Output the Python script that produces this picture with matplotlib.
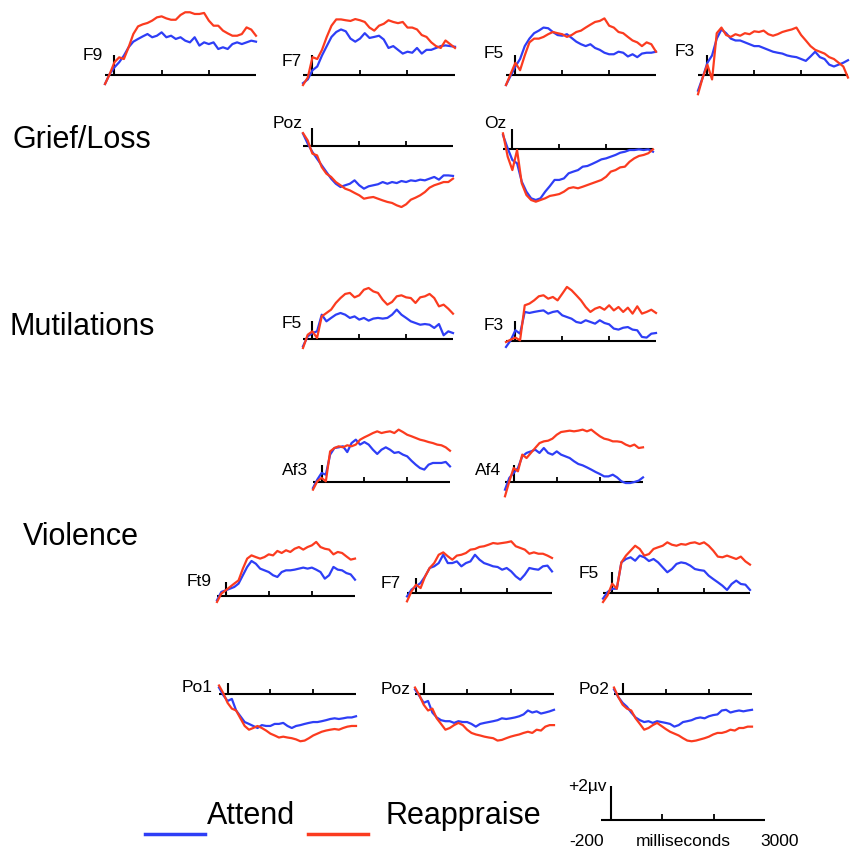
import numpy as np
import matplotlib
matplotlib.use("Agg")
import matplotlib.pyplot as plt
from matplotlib.lines import Line2D

plt.rcParams['font.family'] = ['Liberation Sans', 'DejaVu Sans']

# ---- time axis (ms) shared by every waveform ----
times = np.arange(-200, 3001, 100)
tick_times = [1000, 2000]

# ---- ERP amplitudes (microvolts) ----
# Grief/Loss, row 1
f9_attend = [-0.53, 0.06, 0.45, 0.75, 1.14, 1.63, 1.96, 2.12, 2.27, 2.41, 2.22, 2.31, 2.51, 2.22, 2.31, 2.12, 2.22,
             2.02, 1.92, 2.22, 1.73, 1.92, 1.82, 1.92, 1.53, 1.63, 1.53, 1.82, 1.92, 1.82, 1.92, 2.02, 1.96]
f9_reappraise = [-0.53, 0.06, 0.75, 1.04, 0.94, 1.63, 2.41, 2.86, 2.98, 3.06, 3.2, 3.39, 3.45, 3.33, 3.25, 3.25, 3.53,
                 3.69, 3.69, 3.59, 3.59, 3.65, 3.2, 2.9, 2.9, 2.61, 2.45, 2.31, 2.31, 2.41, 2.8, 2.67, 2.31]
f7_attend = [-0.48, -0.26, 0.28, 0.5, 1.15, 1.7, 2.24, 2.53, 2.68, 2.57, 2.14, 1.96, 2.14, 2.46, 2.18, 2.24, 2.31,
             2.09, 1.59, 1.7, 1.48, 1.26, 1.37, 1.31, 1.59, 1.26, 1.48, 1.48, 1.59, 1.7, 1.74, 1.7, 1.66]
f7_reappraise = [-0.59, -0.15, 1.05, 0.94, 1.48, 2.24, 2.9, 3.27, 3.27, 3.22, 3.18, 3.29, 3.22, 3.12, 2.79, 2.61, 2.9,
                 3.01, 3.22, 3.12, 3.05, 3.12, 2.79, 2.79, 2.68, 2.35, 2.24, 1.92, 1.7, 1.59, 2.03, 1.81, 1.59]
f5_attend = [-0.59, -0.04, 0.5, 0.94, 1.7, 2.14, 2.46, 2.61, 2.79, 2.75, 2.53, 2.35, 2.31, 2.4, 2.18, 1.96, 1.81,
             1.7, 1.81, 1.59, 1.48, 1.31, 1.22, 1.22, 1.37, 1.31, 1.09, 1.22, 1.05, 1.26, 1.31, 1.31, 1.37]
f5_reappraise = [-0.59, 0.07, 0.72, 0.28, 1.15, 1.92, 2.14, 2.14, 2.24, 2.4, 2.53, 2.46, 2.4, 2.24, 2.35, 2.53, 2.61,
                 2.79, 2.96, 3.12, 3.18, 3.33, 2.9, 2.79, 2.53, 2.46, 2.24, 2.03, 1.92, 1.7, 1.92, 1.81, 1.37]
f3_attend = [-0.92, -0.15, 0.72, 1.15, 2.14, 2.68, 2.46, 2.14, 2.03, 2.03, 1.92, 1.81, 1.7, 1.7, 1.59, 1.48, 1.37,
             1.31, 1.26, 1.15, 1.09, 1.05, 0.94, 0.83, 1.09, 1.37, 1.05, 0.94, 0.61, 0.5, 0.61, 0.72, 0.87]
f3_reappraise = [-1.13, -0.15, 0.61, -0.26, 2.46, 2.79, 2.35, 2.24, 2.4, 2.31, 2.46, 2.4, 2.57, 2.53, 2.61, 2.4, 2.31,
                 2.4, 2.53, 2.61, 2.68, 2.79, 2.35, 2.03, 1.7, 1.48, 1.37, 1.26, 1.05, 0.94, 0.72, 0.5, -0.15]
# Grief/Loss, row 2
poz_attend = [0.73, 0.14, -0.35, -0.75, -1.14, -1.53, -1.92, -2.22, -2.41, -2.31, -2.22, -2.02, -2.31, -2.51, -2.37,
              -2.31, -2.25, -2.12, -2.22, -2.12, -2.18, -2.06, -2.12, -2.02, -2.06, -1.98, -2.02, -1.92, -1.82, -1.98,
              -1.73, -1.73, -1.76]
poz_reappraise = [0.76, 0.33, -0.45, -0.55, -1.24, -1.63, -1.82, -2.12, -2.31, -2.51, -2.61, -2.76, -2.9, -3.1, -3.04,
                  -3.0, -3.1, -3.2, -3.29, -3.35, -3.49, -3.59, -3.43, -3.16, -3.04, -2.9, -2.71, -2.45, -2.31, -2.22,
                  -2.12, -2.12, -1.92]
oz_attend = [0.82, 0.04, -0.65, -0.84, -1.92, -2.51, -2.9, -3.0, -2.9, -2.51, -2.18, -1.82, -1.82, -1.73, -1.43, -1.33,
             -1.24, -1.04, -1.0, -0.88, -0.75, -0.61, -0.55, -0.45, -0.35, -0.22, -0.16, -0.06, -0.06, -0.02, -0.06,
             -0.02, -0.16]
oz_reappraise = [0.92, -0.45, -1.24, -0.06, -2.02, -2.71, -3.0, -3.1, -3.0, -2.9, -2.76, -2.71, -2.65, -2.51, -2.31,
                 -2.25, -2.31, -2.22, -2.12, -2.02, -1.92, -1.82, -1.63, -1.33, -1.24, -1.08, -1.04, -0.75, -0.55,
                 -0.41, -0.35, -0.25, -0.02]
# Mutilations
mut_f5_attend = [-0.43, 0.16, 0.35, 0.45, 1.43, 1.04, 1.24, 1.43, 1.53, 1.43, 1.24, 1.33, 1.14, 1.24, 1.08, 1.2, 1.24,
                 1.2, 1.24, 1.43, 1.73, 1.43, 1.24, 1.04, 0.94, 0.84, 0.88, 0.84, 0.65, 0.88, 0.22, 0.45, 0.35]
mut_f5_reappraise = [-0.53, 0.25, 0.45, 0.06, 1.33, 1.53, 1.73, 2.12, 2.41, 2.65, 2.71, 2.45, 2.57, 2.9, 3.0, 2.8,
                     2.71, 2.31, 2.02, 2.18, 2.51, 2.57, 2.45, 2.41, 2.12, 2.45, 2.51, 2.65, 2.41, 1.92, 2.02, 1.78, 1.49]
mut_f3_attend = [-0.35, 0.04, 0.63, 0.43, 1.71, 1.65, 1.71, 1.76, 1.8, 1.61, 1.71, 1.76, 1.51, 1.41, 1.31, 1.12, 1.06,
                 1.22, 1.12, 1.02, 1.22, 1.06, 0.98, 0.73, 0.67, 0.78, 0.82, 0.67, 0.63, 0.24, 0.2, 0.43, 0.47]
mut_f3_reappraise = [-0.06, 0.08, 0.2, 0.04, 2.1, 2.2, 2.39, 2.63, 2.69, 2.49, 2.59, 2.39, 2.78, 3.18, 2.98, 2.69,
                     2.39, 2.0, 1.71, 1.9, 2.0, 1.84, 2.1, 1.8, 2.0, 1.71, 1.96, 1.61, 2.04, 1.61, 1.71, 1.84, 1.65]
# Violence
af3_attend = [-0.35, 0.14, 0.53, 0.43, 1.61, 2.0, 2.04, 2.1, 1.76, 2.29, 2.49, 2.2, 2.35, 2.2, 1.9, 1.65, 1.9, 2.04,
              1.9, 1.71, 1.76, 1.61, 1.51, 1.25, 1.02, 0.82, 0.73, 1.02, 1.12, 1.12, 1.12, 1.18, 0.92]
af3_reappraise = [-0.45, 0.04, 0.24, 0.04, 1.8, 2.0, 2.1, 2.04, 2.16, 2.1, 2.2, 2.49, 2.63, 2.75, 2.88, 2.98, 2.88,
                  2.94, 2.98, 2.88, 3.08, 2.94, 2.78, 2.69, 2.59, 2.49, 2.43, 2.35, 2.29, 2.2, 2.16, 2.04, 1.84]
af4_attend = [-0.45, 0.24, 0.53, 0.82, 1.51, 1.71, 1.8, 1.9, 1.71, 2.0, 1.71, 1.61, 1.8, 1.61, 1.51, 1.41, 1.22, 1.06,
              0.98, 0.86, 0.73, 0.59, 0.47, 0.33, 0.33, 0.43, 0.27, 0.04, -0.06, -0.06, 0.0, 0.08, 0.27]
af4_reappraise = [-0.84, 0.04, 0.82, 0.63, 1.61, 1.41, 1.71, 2.0, 2.29, 2.39, 2.43, 2.55, 2.78, 2.94, 2.98, 3.02, 2.98,
                  3.02, 3.08, 2.98, 3.08, 2.88, 2.69, 2.55, 2.49, 2.39, 2.39, 2.35, 2.2, 2.1, 2.2, 2.0, 2.04]
ft9_attend = [-0.25, 0.24, 0.33, 0.43, 0.53, 0.73, 1.22, 1.71, 2.06, 1.9, 1.61, 1.51, 1.41, 1.22, 1.12, 1.41, 1.51,
              1.51, 1.55, 1.61, 1.67, 1.61, 1.67, 1.55, 1.41, 1.02, 1.22, 1.71, 1.55, 1.51, 1.35, 1.27, 0.96]
ft9_reappraise = [-0.35, 0.14, 0.33, 0.53, 0.73, 0.92, 1.61, 2.2, 2.39, 2.29, 2.2, 2.29, 2.45, 2.39, 2.65, 2.53, 2.69,
                  2.59, 2.78, 2.88, 2.73, 2.88, 2.98, 3.18, 2.88, 2.78, 2.73, 2.45, 2.59, 2.53, 2.33, 2.14, 2.2]
vf7_attend = [-0.2, 0.2, 0.39, 0.59, 0.98, 1.47, 1.57, 1.76, 2.25, 1.76, 1.76, 1.86, 1.57, 1.76, 1.86, 2.25, 1.96,
              1.76, 1.67, 1.57, 1.53, 1.37, 1.47, 1.27, 0.98, 0.78, 1.08, 1.47, 1.41, 1.37, 1.57, 1.61, 1.27]
vf7_reappraise = [-0.49, 0.1, 0.49, 0.29, 0.98, 1.47, 1.76, 2.25, 2.39, 2.16, 1.96, 2.2, 2.25, 2.35, 2.55, 2.59, 2.71,
                  2.75, 2.84, 2.94, 2.9, 2.94, 2.98, 3.04, 2.75, 2.65, 2.55, 2.31, 2.39, 2.31, 2.31, 2.2, 2.06]
vf5_attend = [-0.33, 0.06, 0.25, 0.25, 1.8, 2.0, 2.1, 1.9, 2.2, 2.1, 1.88, 2.0, 1.8, 1.51, 1.22, 1.41, 1.71, 1.8,
              1.75, 1.61, 1.41, 1.35, 1.31, 1.02, 0.82, 0.63, 0.43, 0.18, 0.53, 0.73, 0.53, 0.49, 0.18]
vf5_reappraise = [-0.53, -0.14, 0.55, 0.25, 1.8, 2.2, 2.49, 2.78, 2.59, 2.2, 2.29, 2.59, 2.69, 2.78, 2.98, 2.84, 2.78,
                  2.88, 2.84, 2.94, 2.98, 2.88, 2.98, 2.78, 2.49, 2.14, 2.1, 2.2, 2.1, 2.0, 2.14, 1.86, 1.67]
po1_attend = [0.38, -0.07, -0.41, -0.29, -0.97, -1.31, -1.65, -1.76, -1.88, -2.0, -1.83, -1.88, -1.88, -1.76, -1.76,
              -1.7, -1.88, -2.0, -1.88, -1.83, -1.76, -1.7, -1.65, -1.65, -1.6, -1.54, -1.47, -1.43, -1.47, -1.43,
              -1.38, -1.38, -1.31]
po1_reappraise = [0.5, 0.05, -0.52, -0.86, -0.97, -1.43, -1.88, -2.1, -2.0, -1.88, -2.0, -2.15, -2.33, -2.44, -2.56,
                  -2.51, -2.56, -2.6, -2.67, -2.78, -2.74, -2.6, -2.44, -2.33, -2.22, -2.15, -2.1, -2.06, -2.1, -2.0,
                  -1.92, -1.88, -1.88]
vpoz_attend = [0.27, -0.11, -0.52, -0.41, -1.09, -1.38, -1.54, -1.6, -1.6, -1.7, -1.6, -1.65, -1.65, -1.76, -1.92,
               -1.76, -1.7, -1.65, -1.6, -1.54, -1.43, -1.47, -1.43, -1.38, -1.31, -1.2, -0.97, -1.09, -1.02, -1.15,
               -1.09, -1.02, -0.93]
vpoz_reappraise = [0.38, -0.07, -0.63, -0.97, -0.86, -1.43, -1.76, -2.1, -2.0, -1.83, -1.7, -1.83, -2.1, -2.29, -2.38,
                   -2.44, -2.51, -2.56, -2.6, -2.74, -2.7, -2.6, -2.51, -2.44, -2.38, -2.29, -2.22, -2.29, -2.1, -2.15,
                   -1.92, -1.83, -1.83]
po2_attend = [0.27, -0.18, -0.52, -0.75, -1.09, -1.38, -1.54, -1.65, -1.6, -1.7, -1.6, -1.65, -1.7, -1.76, -1.92,
              -1.83, -1.65, -1.6, -1.54, -1.43, -1.38, -1.43, -1.31, -1.24, -1.2, -0.97, -0.93, -1.09, -1.02, -0.97,
              -1.02, -0.97, -0.93]
po2_reappraise = [0.38, -0.18, -0.63, -0.86, -0.97, -1.43, -1.76, -2.1, -2.0, -1.83, -1.7, -1.88, -2.06, -2.22, -2.33,
                  -2.44, -2.6, -2.74, -2.78, -2.74, -2.67, -2.6, -2.51, -2.38, -2.29, -2.29, -2.22, -2.1, -2.15, -2.0,
                  -2.0, -1.92, -1.92]

channel_labels = ['F9', 'F7', 'F5', 'F3', 'Poz', 'Oz', 'F5', 'F3', 'Af3', 'Af4',
                  'Ft9', 'F7', 'F5', 'Po1', 'Poz', 'Po2']
attend_series = [f9_attend, f7_attend, f5_attend, f3_attend, poz_attend, oz_attend, mut_f5_attend, mut_f3_attend,
                 af3_attend, af4_attend, ft9_attend, vf7_attend, vf5_attend, po1_attend, vpoz_attend, po2_attend]
reappraise_series = [f9_reappraise, f7_reappraise, f5_reappraise, f3_reappraise, poz_reappraise, oz_reappraise,
                     mut_f5_reappraise, mut_f3_reappraise, af3_reappraise, af4_reappraise, ft9_reappraise,
                     vf7_reappraise, vf5_reappraise, po1_reappraise, vpoz_reappraise, po2_reappraise]
group_labels = ['Grief/Loss', 'Mutilations', 'Violence']
condition_labels = ['Attend', 'Reappraise']

# ---- layout in pixels: x at -200 ms, width (3200 ms), baseline y, bar height, label right x, label y ----
layout = [
    (105, 151, 75, 20, 103, 56), (303, 152, 75, 20, 302, 62), (506, 150, 75, 20, 504, 54), (698, 150, 75, 20, 695, 51),
    (303, 150, 146, 18, 303, 124), (503, 150, 149, 20, 506, 124),
    (303, 150, 339, 18, 302, 324), (506, 150, 341, 20, 504, 325),
    (313, 137, 482, 17, 308, 470), (505, 138, 482, 17, 501, 470),
    (217, 138, 596, 14, 212, 582), (407, 145, 593, 15, 401, 583), (603, 147, 593, 21, 599, 574),
    (219, 137, 694, 11, 213, 688), (415, 139, 694, 11, 411, 689), (614, 138, 694, 11, 610, 689),
]
group_pos = [(13, 140), (10, 327), (23, 537)]

W, H = 854, 850
PX_PER_UV = 17.0
BLUE = '#2e3ef6'
RED = '#fb3b1f'

fig = plt.figure(figsize=(W / 100, H / 100), dpi=100)
fig.patch.set_facecolor('white')


def panel_axes(x_left, width, y_base, half=4.5):
    h = 2 * half * PX_PER_UV
    ax = fig.add_axes([x_left / W, (H - y_base - half * PX_PER_UV) / H, width / W, h / H])
    ax.set_xlim(-200, 3000)
    ax.set_ylim(-half, half)
    ax.axis('off')
    return ax


def draw_frame(ax, bar_px, tick_px=5):
    ax.plot([-200, 3000], [0, 0], color='black', lw=1.5, solid_capstyle='butt')
    ax.plot([0, 0], [0, bar_px / PX_PER_UV], color='black', lw=1.5, solid_capstyle='butt')
    for t in tick_times:
        ax.plot([t, t], [0, tick_px / PX_PER_UV], color='black', lw=1.3, solid_capstyle='butt')


for lab, att, rea, (xl, w, yb, bar, lx, ly) in zip(channel_labels, attend_series, reappraise_series, layout):
    ax = panel_axes(xl, w, yb)
    draw_frame(ax, bar)
    ax.plot(times, att, color=BLUE, lw=1.6, clip_on=False)
    ax.plot(times, rea, color=RED, lw=1.6, clip_on=False)
    fig.text(lx / W, 1 - ly / H, lab, ha='right', va='center', fontsize=12.5)

for g, (gx, gy) in zip(group_labels, group_pos):
    fig.text(gx / W, 1 - gy / H, g, ha='left', va='center', fontsize=22)

# ---- scale bar ----
sb = panel_axes(601, 164, 820)
draw_frame(sb, 2 * PX_PER_UV, tick_px=6)
fig.text(607 / W, 1 - 787 / H, '+2\u00b5v', ha='right', va='center', fontsize=12.5)
fig.text(587 / W, 1 - 841 / H, '-200', ha='center', va='center', fontsize=12.5)
fig.text(683 / W, 1 - 841 / H, 'milliseconds', ha='center', va='center', fontsize=12.5)
fig.text(780 / W, 1 - 841 / H, '3000', ha='center', va='center', fontsize=12.5)

# ---- legend ----
fig.add_artist(Line2D([145 / W, 205 / W], [1 - 834 / H] * 2, color=BLUE, lw=2.5))
fig.add_artist(Line2D([308 / W, 368 / W], [1 - 834 / H] * 2, color=RED, lw=2.5))
fig.text(207 / W, 1 - 816 / H, condition_labels[0], ha='left', va='center', fontsize=22)
fig.text(386 / W, 1 - 816 / H, condition_labels[1], ha='left', va='center', fontsize=22)

fig.savefig('out.png', dpi=100, facecolor='white')
